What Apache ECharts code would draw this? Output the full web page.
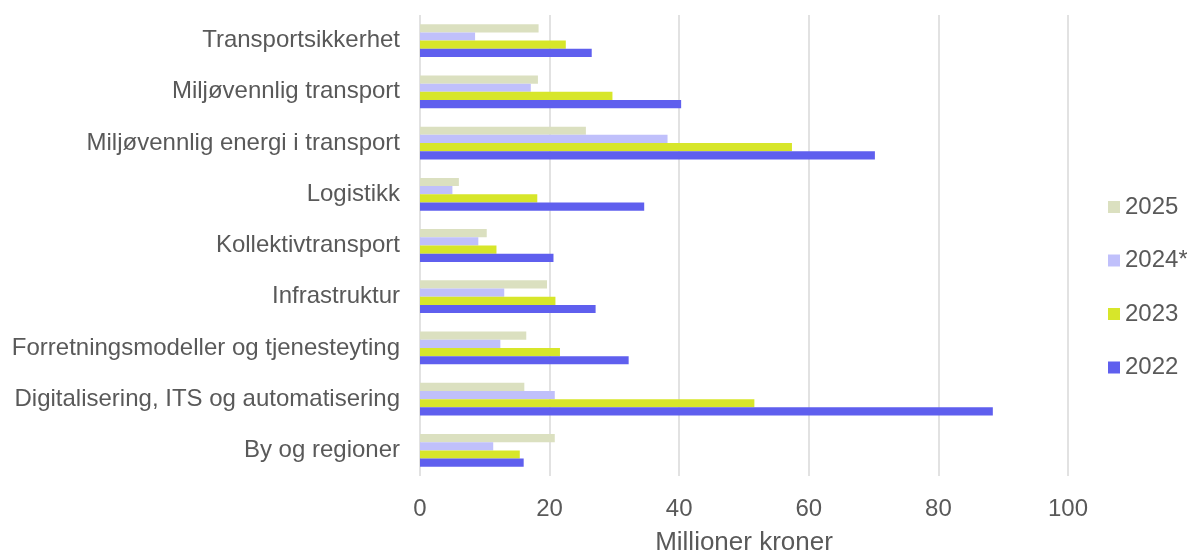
<!DOCTYPE html>
<html>
<head>
<meta charset="utf-8">
<script src="https://cdn.jsdelivr.net/npm/echarts@6/dist/echarts.min.js"></script>
<style>
  html, body { margin: 0; padding: 0; background: #fff; }
  #chart { width: 1187px; height: 552px; }
</style>
</head>
<body>
<div id="chart"></div>
<script>
// Categories, listed from the bottom of the axis upward
const categories = [
  'By og regioner',
  'Digitalisering, ITS og automatisering',
  'Forretningsmodeller og tjenesteyting',
  'Infrastruktur',
  'Kollektivtransport',
  'Logistikk',
  'Miljøvennlig energi i transport',
  'Miljøvennlig transport',
  'Transportsikkerhet'
];

// Millioner kroner per year, same order as categories
const values2025 = [20.8, 16.1, 16.4, 19.6, 10.3, 6.0, 25.6, 18.2, 18.3];
const values2024 = [11.3, 20.8, 12.4, 13.0, 9.0, 5.0, 38.2, 17.1, 8.5];
const values2023 = [15.4, 51.6, 21.6, 20.9, 11.8, 18.1, 57.4, 29.7, 22.5];
const values2022 = [16.0, 88.4, 32.2, 27.1, 20.6, 34.6, 70.2, 40.3, 26.5];

// Series order puts 2025 at the top of each group
const seriesNames = ['2025', '2024*', '2023', '2022'];
const seriesColors = ['#dbe0c0', '#c0c0fb', '#d7e62a', '#5f5fee'];
const seriesData = [values2025, values2024, values2023, values2022];

const xTicks = { min: 0, max: 100, interval: 20 };
const xAxisTitle = 'Millioner kroner';

const textColor = '#595959';
const fontFamily = '"Liberation Sans", Arial, sans-serif';

const chart = echarts.init(document.getElementById('chart'), null, { renderer: 'canvas' });

chart.setOption({
  animation: false,
  textStyle: { fontFamily: fontFamily },
  grid: {
    left: 420, right: 119, top: 15, bottom: 76,
    containLabel: false,
    outerBoundsMode: 'none'
  },
  legend: {
    data: seriesNames,
    orient: 'vertical',
    left: 1108,
    top: 195,
    padding: 0,
    itemWidth: 12,
    itemHeight: 12,
    itemGap: 29.5,
    icon: 'rect',
    textStyle: { color: textColor, fontSize: 24, fontFamily: fontFamily }
  },
  xAxis: {
    type: 'value',
    min: xTicks.min,
    max: xTicks.max,
    interval: xTicks.interval,
    name: xAxisTitle,
    nameLocation: 'middle',
    nameGap: 54,
    nameTextStyle: { color: textColor, fontSize: 26, fontFamily: fontFamily },
    axisLine: { show: false },
    axisTick: { show: false },
    axisLabel: { color: textColor, fontSize: 24, margin: 21, fontFamily: fontFamily },
    splitLine: { show: true, lineStyle: { color: '#d9d9d9', width: 1.5 } }
  },
  yAxis: {
    type: 'category',
    data: categories,
    axisLine: { show: false },
    axisTick: { show: false },
    axisLabel: { color: textColor, fontSize: 24, margin: 20, fontFamily: fontFamily },
    splitLine: { show: false }
  },
  series: seriesNames.map((name, i) => ({
    name: name,
    type: 'bar',
    data: seriesData[i],
    itemStyle: { color: seriesColors[i] },
    barGap: '0%',
    barCategoryGap: '36%'
  }))
});
</script>
</body>
</html>
